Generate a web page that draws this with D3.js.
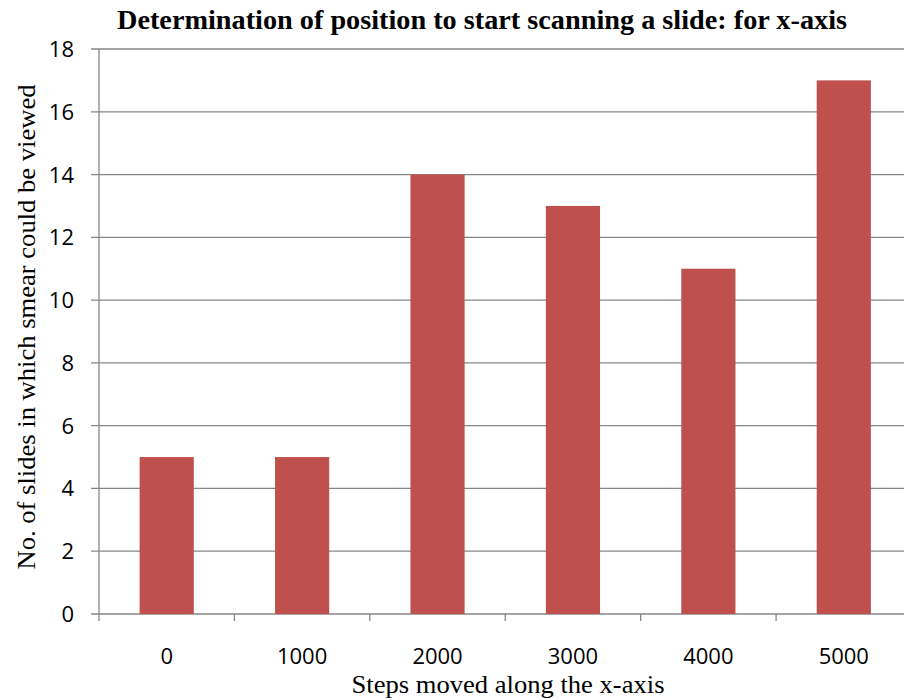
<!DOCTYPE html>
<html><head><meta charset="utf-8">
<script src="https://cdn.jsdelivr.net/npm/d3@7"></script>
<style>body{margin:0;background:#fff}</style>
</head><body>
<script>
const categories = ["0","1000","2000","3000","4000","5000"];
const values = [5,5,14,13,11,17];
const yTicks = [0,2,4,6,8,10,12,14,16,18];
const title = "Determination of position to start scanning a slide: for x-axis";
const xLabel = "Steps moved along the x-axis";
const yLabel = "No. of slides in which smear could be viewed";

const W=904,H=700;
const svg=d3.select("body").append("svg").attr("width",W).attr("height",H);
const mL=99,mR=911.5,mT=49,mB=614;
const x=d3.scaleBand().domain(categories).range([mL,mR]).paddingInner(0.6).paddingOuter(0.3);
const y=d3.scaleLinear().domain([0,18]).range([mB,mT]);

svg.append("g").selectAll("line").data(yTicks).join("line")
  .attr("x1",mL-8).attr("x2",mR).attr("y1",d=>y(d)).attr("y2",d=>y(d))
  .attr("stroke","#878787").attr("stroke-width",1.3);
svg.append("line").attr("x1",mL).attr("x2",mL).attr("y1",mT).attr("y2",mB).attr("stroke","#878787").attr("stroke-width",1.3);
svg.append("g").selectAll("text").data(yTicks).join("text")
  .attr("x",74).attr("y",d=>y(d)+8).attr("text-anchor","end")
  .attr("font-family","Open Sans, sans-serif").attr("font-size",22).attr("fill","#000").text(d=>d);

svg.append("g").selectAll("rect").data(values).join("rect")
  .attr("x",(d,i)=>x(categories[i])).attr("width",x.bandwidth())
  .attr("y",d=>y(d)).attr("height",d=>y(0)-y(d)).attr("fill","#C0504D");

const step=x.step();
const xTickPos=categories.map((c,i)=>mL+i*step);
svg.append("g").selectAll("line").data(xTickPos).join("line")
  .attr("x1",d=>d).attr("x2",d=>d).attr("y1",mB).attr("y2",mB+7)
  .attr("stroke","#878787").attr("stroke-width",1.3);
svg.append("g").selectAll("text").data(categories).join("text")
  .attr("x",d=>x(d)+x.bandwidth()/2).attr("y",664).attr("text-anchor","middle")
  .attr("font-family","Open Sans, sans-serif").attr("font-size",22).attr("fill","#000").text(d=>d);

svg.append("text").attr("x",482).attr("y",29).attr("text-anchor","middle")
  .attr("font-family","Liberation Serif, serif").attr("font-weight","bold").attr("font-size",27)
  .attr("textLength",730).attr("lengthAdjust","spacingAndGlyphs").text(title);
svg.append("text").attr("x",508).attr("y",693).attr("text-anchor","middle")
  .attr("font-family","Liberation Serif, serif").attr("font-size",25)
  .attr("textLength",313).attr("lengthAdjust","spacingAndGlyphs").text(xLabel);
svg.append("text").attr("transform","translate(35,327) rotate(-90)").attr("text-anchor","middle")
  .attr("font-family","Liberation Serif, serif").attr("font-size",25)
  .attr("textLength",485).attr("lengthAdjust","spacingAndGlyphs").text(yLabel);
</script>
</body></html>
